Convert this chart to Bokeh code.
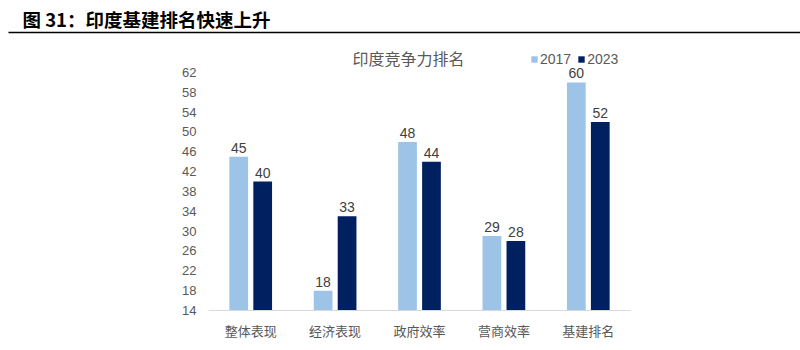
from bokeh.plotting import figure
from bokeh.models import (ColumnDataSource, FactorRange, Range1d, FixedTicker, LabelSet,
                          Label, Legend, LegendItem)
from bokeh.layouts import column
from bokeh.transform import dodge
from bokeh.core.properties import value
from bokeh.embed import file_html
from bokeh.resources import INLINE

header_text = "图 31：印度基建排名快速上升"
chart_title = "印度竞争力排名"
categories = ["整体表现", "经济表现", "政府效率", "营商效率", "基建排名"]
series_names = ["2017", "2023"]
values_2017 = [45, 18, 48, 29, 60]
values_2023 = [40, 33, 44, 28, 52]
y_ticks = list(range(14, 63, 4))

c2017 = "#9DC3E6"
c2023 = "#002060"
gray = "#595959"
CJK = "Noto Sans CJK SC"
LAT = "Liberation Sans"

# ---------- header ----------
h = figure(width=800, height=40, x_range=Range1d(0, 800), y_range=Range1d(40, 0),
           output_backend="svg", toolbar_location=None, min_border=0)
h.axis.visible = False
h.grid.visible = False
h.outline_line_color = None
h.frame_align = False
h.add_layout(Label(x=22, y=18, text=header_text, text_font=CJK, text_font_size="18.5px",
                   text_font_style="bold", text_color="#000000", text_baseline="middle"))
h.segment(x0=[8], y0=[32], x1=[800], y1=[32], line_color="#000000", line_width=1.5)

# ---------- main ----------
src = ColumnDataSource(dict(cat=categories, v2017=values_2017, v2023=values_2023,
                            t2017=[str(v) for v in values_2017],
                            t2023=[str(v) for v in values_2023]))

p = figure(width=800, height=310, x_range=FactorRange(*categories), y_range=Range1d(14, 68.45),
           output_backend="svg", toolbar_location=None,
           min_border_left=208, min_border_right=170, min_border_top=0, min_border_bottom=40)
p.frame_align = False
p.outline_line_color = None
p.grid.visible = False
p.background_fill_color = None
p.border_fill_color = "white"

off = 0.142
w = 0.222
r1 = p.vbar(x=dodge("cat", -off, range=p.x_range), top="v2017", bottom=14, width=w,
            source=src, fill_color=c2017, line_color=None)
r2 = p.vbar(x=dodge("cat", off, range=p.x_range), top="v2023", bottom=14, width=w,
            source=src, fill_color=c2023, line_color=None)

for col, o in (("2017", -off), ("2023", off)):
    p.add_layout(LabelSet(x=dodge("cat", o, range=p.x_range), y="v" + col, text="t" + col,
                          source=src, y_offset=4, text_align="center", text_baseline="bottom",
                          text_font=value(LAT), text_font_size="14px", text_color="#404040"))

p.yaxis.ticker = FixedTicker(ticks=y_ticks)
p.yaxis.axis_line_color = None
p.yaxis.major_tick_line_color = None
p.yaxis.minor_tick_line_color = None
p.yaxis.major_label_text_font = LAT
p.yaxis.major_label_text_font_size = "13px"
p.yaxis.major_label_text_color = gray
p.yaxis.major_label_standoff = 6

p.xaxis.axis_line_color = "#D9D9D9"
p.xaxis.axis_line_width = 1
p.xaxis.major_tick_line_color = None
p.xaxis.minor_tick_line_color = None
p.xaxis.major_label_text_font = CJK
p.xaxis.major_label_text_font_size = "13px"
p.xaxis.major_label_text_color = gray
p.xaxis.major_label_standoff = 4

p.add_layout(Label(x=2.37, y=65.0, text=chart_title, text_font=CJK, text_font_size="16px",
                   text_color=gray, text_align="center", text_baseline="middle"))

legend = Legend(items=[LegendItem(label=series_names[0], renderers=[r1]),
                       LegendItem(label=series_names[1], renderers=[r2])],
                location=(322, 243), orientation="horizontal",
                glyph_width=8, glyph_height=8, label_standoff=2, spacing=6,
                padding=0, margin=0, border_line_color=None, background_fill_alpha=0,
                label_text_font=LAT, label_text_font_size="14px", label_text_color=gray,
                label_height=16)
p.add_layout(legend, "center")

layout = column(h, p, spacing=0)
open("out.html", "w").write(file_html(layout, INLINE))
